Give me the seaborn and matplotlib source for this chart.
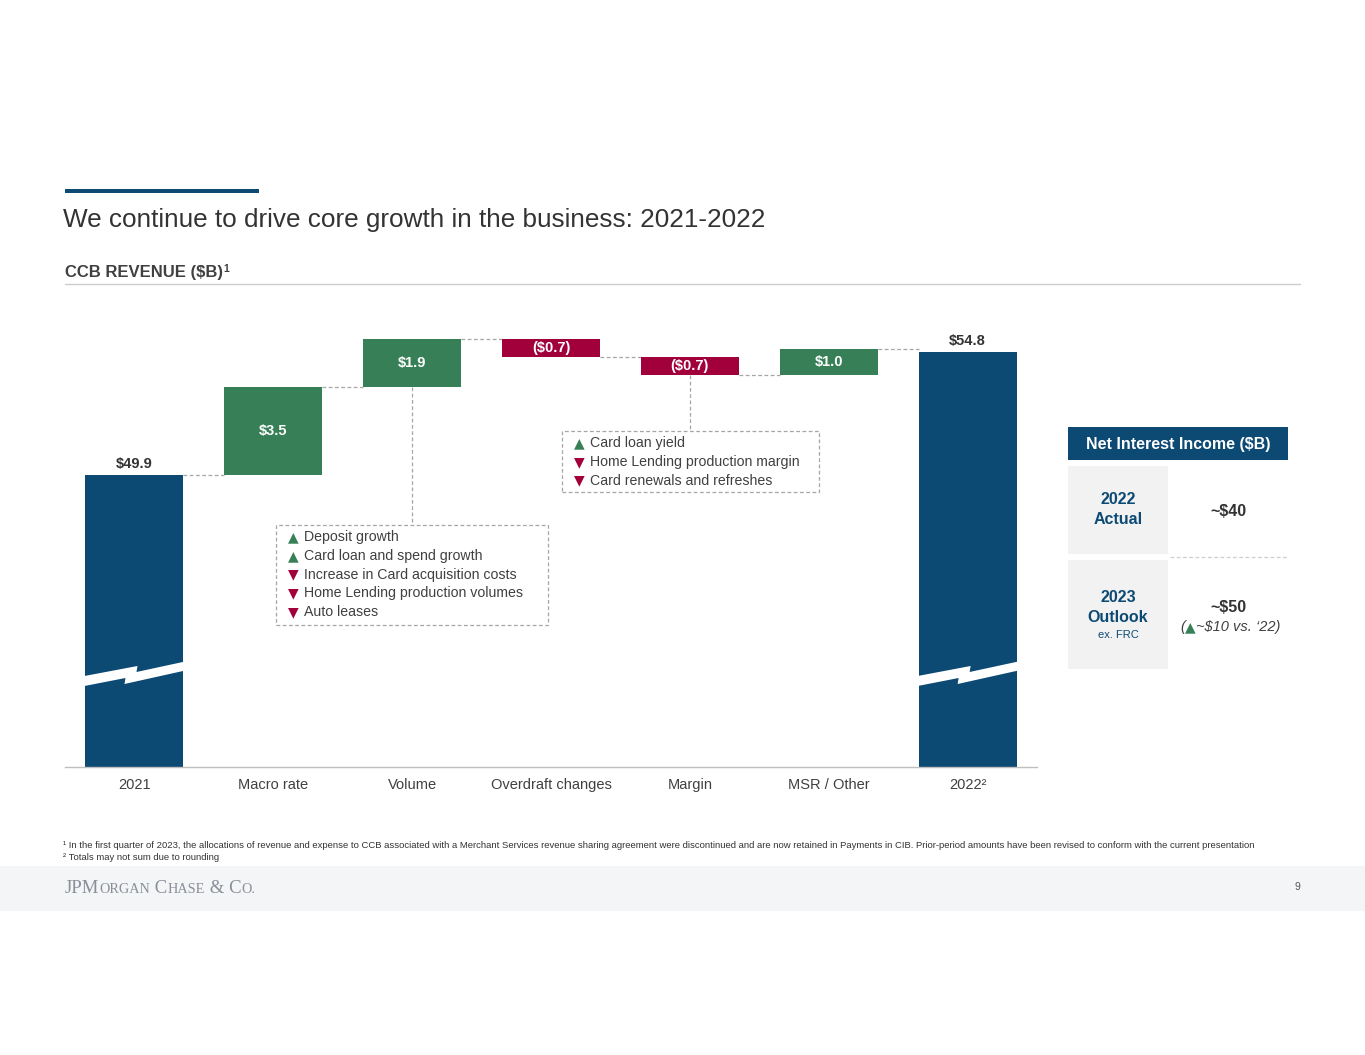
import matplotlib
matplotlib.use('Agg')
import matplotlib.pyplot as plt
import matplotlib.patches as mpatches
import matplotlib.transforms as mtransforms
from matplotlib.lines import Line2D
import pandas as pd
import seaborn as sns

# --- data ---
categories = ['2021', 'Macro rate', 'Volume', 'Overdraft changes', 'Margin', 'MSR / Other', '2022']
values = [49.9, 3.5, 1.9, -0.7, -0.7, 1.0, 54.8]
is_total = [True, False, False, False, False, False, True]
tick_labels = ['2021', 'Macro rate', 'Volume', 'Overdraft changes', 'Margin', 'MSR / Other', '2022\u00b2']

volume_drivers = ['Deposit growth', 'Card loan and spend growth', 'Increase in Card acquisition costs',
                  'Home Lending production volumes', 'Auto leases']
volume_dirs = ['up', 'up', 'down', 'down', 'down']
margin_drivers = ['Card loan yield', 'Home Lending production margin', 'Card renewals and refreshes']
margin_dirs = ['up', 'down', 'down']

nii_2022 = '~$40'
nii_2023 = '~$50'
nii_change = '~$10 vs. \u201822)'

# --- style ---
NAVY = '#0C4A74'
GREEN = '#378057'
RED = '#A1003A'
TEXT = '#333333'
DASH = '#A6A6A6'
W, H = 1365, 1055

sns.set_theme(style='white')
plt.rcParams['font.family'] = ['Liberation Sans', 'DejaVu Sans']

fig = plt.figure(figsize=(W / 100, H / 100), dpi=100)
fig.patch.set_facecolor('white')


def ftext(x, y, s, **kw):
    kw.setdefault('va', 'center')
    kw.setdefault('color', TEXT)
    return fig.text(x / W, 1 - y / H, s, **kw)


def frect(x0, y0, x1, y1, **kw):
    r = mpatches.Rectangle((x0 / W, 1 - y1 / H), (x1 - x0) / W, (y1 - y0) / H,
                           transform=fig.transFigure, **kw)
    fig.add_artist(r)
    return r


def fline(xs, ys, **kw):
    fig.add_artist(Line2D([x / W for x in xs], [1 - y / H for y in ys], transform=fig.transFigure, **kw))


def seq_text(x, y, pieces, center=False):
    # place text pieces one after another on a common baseline
    r = fig.canvas.get_renderer()
    cur = x
    arts = []
    for s, kw in pieces:
        kw = dict(kw)
        kw.setdefault('color', TEXT)
        t = fig.text(cur / W, 1 - y / H, s, va='baseline', ha='left', **kw)
        bb = t.get_window_extent(r)
        cur = bb.x1
        arts.append(t)
    if center:
        shift = (cur - x) / 2
        for t in arts:
            px, py = t.get_position()
            t.set_position((px - shift / W, py))
    return arts


# --- waterfall geometry ---
heights, bottoms, levels = [], [], []
level = 0.0
for v, tot in zip(values, is_total):
    if tot:
        bottoms.append(0.0)
        heights.append(v)
        level = v
    else:
        bottoms.append(min(level, level + v))
        heights.append(abs(v))
        level += v
    levels.append(level)

df = pd.DataFrame({'category': categories, 'height': heights})

ax = fig.add_axes([65 / W, (H - 767) / H, (1037 - 65) / W, (767 - 300) / H])
BAR_W = 0.705
sns.barplot(data=df, x='category', y='height', order=categories, bottom=bottoms,
            color=NAVY, width=BAR_W, errorbar=None, saturation=1, ax=ax, zorder=2)

for patch, v, tot in zip(ax.patches, values, is_total):
    patch.set_facecolor(NAVY if tot else (GREEN if v > 0 else RED))
    patch.set_edgecolor('none')

ppu = 123 / 4.9
ybot = 49.9 - (767 - 475) / ppu
ax.set_ylim(ybot, ybot + 467 / ppu)
ax.set_xlim(-0.5, 6.5)
ax.set_yticks([])
ax.set_xlabel('')
ax.set_ylabel('')
ax.set_xticks(range(len(categories)))
ax.set_xticklabels(tick_labels, fontsize=10.5, color='#404040')
ax.tick_params(axis='x', length=0, pad=8)
for side in ['left', 'right', 'top']:
    ax.spines[side].set_visible(False)
ax.spines['bottom'].set_color('#BFBFBF')
ax.spines['bottom'].set_linewidth(1.0)
ax.set_facecolor('none')

# connectors
hw = BAR_W / 2
for i in range(len(categories) - 1):
    ax.plot([i + hw, i + 1 - hw], [levels[i], levels[i]], color=DASH, lw=0.9,
            ls=(0, (3, 2)), zorder=1)

# value labels
for i, (v, tot) in enumerate(zip(values, is_total)):
    if tot:
        ax.annotate(f'${v:.1f}', (i, bottoms[i] + heights[i]), xytext=(0, 8), textcoords='offset points',
                    ha='center', va='center', fontsize=10.5, fontweight='bold', color=TEXT)
    else:
        lab = f'${v:.1f}' if v > 0 else f'(${abs(v):.1f})'
        ax.text(i, bottoms[i] + heights[i] / 2, lab, ha='center', va='center', fontsize=10.5,
                fontweight='bold', color='white', zorder=3)

# axis break marks on the total bars
brk = [(-1, 676), (52, 666), (51, 672), (102, 661), (102, 670), (39, 684), (40, 678), (-1, 686)]
for i, tot in enumerate(is_total):
    if not tot:
        continue
    x0 = ax.transData.transform((i - hw, ybot))[0]
    pts = [(x0 + dx, H - y) for dx, y in brk]
    ax.add_patch(mpatches.Polygon(pts, closed=True, transform=mtransforms.IdentityTransform(),
                                  facecolor='white', edgecolor='none', zorder=4, clip_on=False))


# driver boxes with leader lines
def driver_box(bar_idx, box, dirs, items):
    x0, y0, x1, y1 = box
    bx, by = ax.transData.transform((bar_idx, bottoms[bar_idx]))
    fline([bx, bx], [H - by, y0], color=DASH, lw=0.9, ls=(0, (3, 2)))
    frect(x0, y0, x1, y1, facecolor='white', edgecolor=DASH, lw=0.9, ls=(0, (3, 2)))
    for k, (d, s) in enumerate(zip(dirs, items)):
        yy = y0 + 12 + k * 18.8
        ftext(x0 + 17, yy, '\u25b2' if d == 'up' else '\u25bc', ha='center',
              fontsize=10, family='DejaVu Sans', color=GREEN if d == 'up' else RED)
        ftext(x0 + 28, yy, s, ha='left', fontsize=10.2, color='#404040')


driver_box(2, (276, 525, 548, 625), volume_dirs, volume_drivers)
driver_box(4, (562, 431, 819, 492), margin_dirs, margin_drivers)

# --- header ---
frect(65, 189, 259, 193, facecolor=NAVY, edgecolor='none')
ftext(63, 220, 'We continue to drive core growth in the business: 2021-2022', fontsize=18.8, color='#333333')
sub = seq_text(65, 277, [('CCB REVENUE ($B)', dict(fontsize=12, fontweight='bold', color='#404040')),
                         ('1', dict(fontsize=7.5, fontweight='bold', color='#404040'))])
sub[-1].set_y(sub[-1].get_position()[1] + 5 / H)
fline([65, 1300], [284, 284], color='#CCCCCC', lw=1)

# --- Net Interest Income panel ---
frect(1068, 427, 1288, 460, facecolor=NAVY, edgecolor='none')
ftext(1178, 444, 'Net Interest Income ($B)', ha='center', fontsize=11.5, fontweight='bold', color='white')
frect(1068, 466, 1168, 554, facecolor='#F2F2F2', edgecolor='none')
frect(1068, 560, 1168, 669, facecolor='#F2F2F2', edgecolor='none')
fline([1170, 1288], [557, 557], color='#CFCFCF', lw=0.9, ls=(0, (3, 2)))
ftext(1118, 500, '2022', ha='center', fontsize=11.5, fontweight='bold', color=NAVY)
ftext(1118, 520, 'Actual', ha='center', fontsize=11.5, fontweight='bold', color=NAVY)
ftext(1228, 511, nii_2022, ha='center', fontsize=11.5, fontweight='bold', color=TEXT)
ftext(1118, 598, '2023', ha='center', fontsize=11.5, fontweight='bold', color=NAVY)
ftext(1118, 618, 'Outlook', ha='center', fontsize=11.5, fontweight='bold', color=NAVY)
ftext(1118, 635, 'ex. FRC', ha='center', fontsize=8, color=NAVY)
ftext(1228, 607, nii_2023, ha='center', fontsize=11.5, fontweight='bold', color=TEXT)
seq_text(1230, 631, [('(', dict(fontsize=10.5, style='italic', color='#404040')),
                     ('\u25b2', dict(fontsize=10, family='DejaVu Sans', color=GREEN)),
                     (nii_change, dict(fontsize=10.5, style='italic', color='#404040'))], center=True)

# --- footnotes and footer ---
ftext(63, 846, '\u00b9 In the first quarter of 2023, the allocations of revenue and expense to CCB associated with a '
      'Merchant Services revenue sharing agreement were discontinued and are now retained in Payments in CIB. '
      'Prior-period amounts have been revised to conform with the current presentation',
      fontsize=6.8, color='#333333')
ftext(63, 858, '\u00b2 Totals may not sum due to rounding', fontsize=6.8, color='#333333')
frect(0, 866, W, 911, facecolor='#F4F5F7', edgecolor='none', zorder=0)
L = dict(fontsize=13.5, family='Liberation Serif', color='#8A8F98')
S = dict(fontsize=10.3, family='Liberation Serif', color='#8A8F98')
seq_text(65, 893, [('JPM', L), ('ORGAN', S), (' C', L), ('HASE', S), (' & C', L), ('O.', S)])
ftext(1297, 887, '9', ha='center', fontsize=7.5, color='#555555')

fig.savefig('out.png', dpi=100)
